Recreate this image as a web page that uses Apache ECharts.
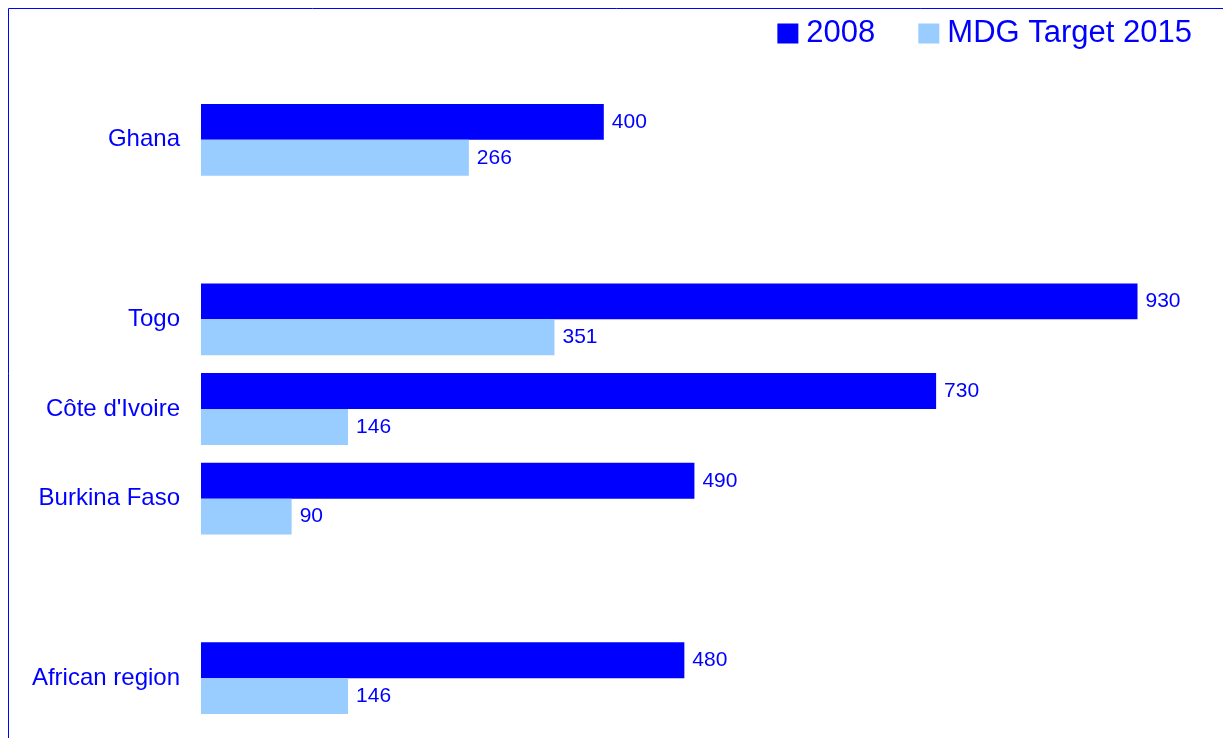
<!DOCTYPE html>
<html>
<head>
<meta charset="utf-8">
<script src="https://cdn.jsdelivr.net/npm/echarts@6/dist/echarts.min.js"></script>
<style>html,body{margin:0;padding:0;background:#fff}#c{width:1223px;height:738px}</style>
</head>
<body>
<div id="c"></div>
<script>
const categories = ['Ghana', '', 'Togo', "Côte d'Ivoire", 'Burkina Faso', '', 'African region'];
const values2008 = [400, '-', 930, 730, 490, '-', 480];
const valuesTarget = [266, '-', 351, 146, 90, '-', 146];
const seriesNames = ['2008', 'MDG Target 2015'];

const chart = echarts.init(document.getElementById('c'));
const labelStyle = {show: true, position: 'right', distance: 8, color: '#0000FF', fontSize: 21, fontFamily: 'Liberation Sans, Arial, sans-serif'};
chart.setOption({
  backgroundColor: '#fff',
  animation: false,
  graphic: [{type: 'rect', shape: {x: 8.5, y: 8.5, width: 1400, height: 900}, style: {fill: 'none', stroke: '#0000FF', lineWidth: 1}, silent: true}],
  legend: {
    right: 26, top: 13,
    itemWidth: 21, itemHeight: 20, itemGap: 43,
    textStyle: {color: '#0000FF', fontSize: 31, fontFamily: 'Liberation Sans, Arial, sans-serif', padding: [0, 0, 0, 3]},
    data: seriesNames.map(n => ({name: n, icon: 'rect'}))
  },
  grid: {left: 201, right: 15, top: 95, bottom: 15},
  xAxis: {type: 'value', min: 0, max: 1000, show: false, splitLine: {show: false}},
  yAxis: {
    type: 'category', inverse: true, data: categories,
    axisLine: {show: false}, axisTick: {show: false},
    axisLabel: {color: '#0000FF', fontSize: 24, margin: 21, fontFamily: 'Liberation Sans, Arial, sans-serif'}
  },
  series: [
    {name: seriesNames[0], type: 'bar', data: values2008, barGap: '0%', barCategoryGap: '20%', itemStyle: {color: '#0000FF'}, label: labelStyle},
    {name: seriesNames[1], type: 'bar', data: valuesTarget, barGap: '0%', barCategoryGap: '20%', itemStyle: {color: '#99CCFF'}, label: labelStyle}
  ]
});
</script>
</body>
</html>
